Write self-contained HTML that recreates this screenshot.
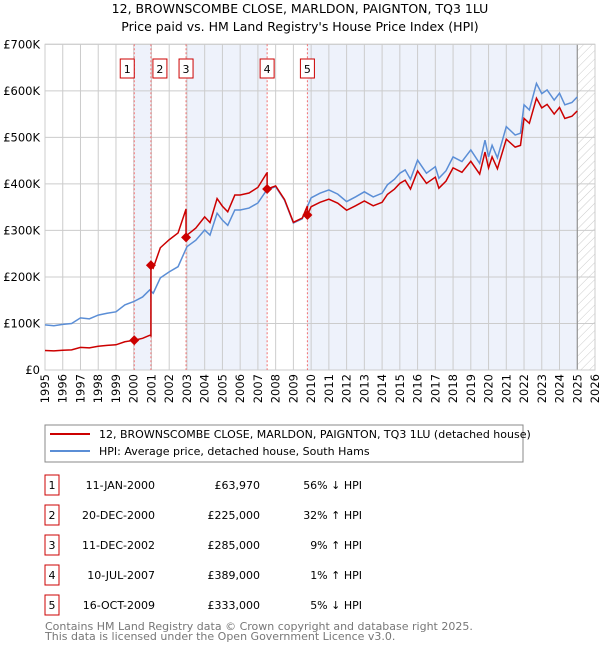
<!DOCTYPE html>
<html><head><meta charset="utf-8"><style>
body{margin:0;background:#fff;font-family:"DejaVu Sans","Liberation Sans",sans-serif;}
svg text{font-family:"DejaVu Sans","Liberation Sans",sans-serif;}
</style></head><body>
<svg id="c" width="600" height="650" xmlns="http://www.w3.org/2000/svg">
<defs><pattern id="hatch" width="6" height="6" patternUnits="userSpaceOnUse" patternTransform="rotate(45)"><line x1="0" y1="0" x2="0" y2="6" stroke="#ccc" stroke-width="1"/></pattern></defs>
<text x="300" y="13" text-anchor="middle" font-size="12.5">12, BROWNSCOMBE CLOSE, MARLDON, PAIGNTON, TQ3 1LU</text>
<text x="300" y="31" text-anchor="middle" font-size="12.5">Price paid vs. HM Land Registry's House Price Index (HPI)</text>
<g id="plot"></g>
<g>
<rect x="45" y="425" width="478" height="37" fill="#fff" stroke="#888"/>
<line x1="50" y1="434" x2="90" y2="434" stroke="#cc0000" stroke-width="2"/>
<text x="99" y="438" font-size="11">12, BROWNSCOMBE CLOSE, MARLDON, PAIGNTON, TQ3 1LU (detached house)</text>
<line x1="50" y1="451" x2="90" y2="451" stroke="#5b8ed6" stroke-width="2"/>
<text x="99" y="455" font-size="11">HPI: Average price, detached house, South Hams</text>
</g>
<g id="table" font-size="11"></g>
<text x="45" y="630" font-size="11" fill="#777">Contains HM Land Registry data © Crown copyright and database right 2025.</text>
<text x="45" y="640" font-size="11" fill="#777">This data is licensed under the Open Government Licence v3.0.</text>
</svg>
<script>
const hpiYears=[1995,1995.5,1996,1996.5,1997,1997.5,1998,1998.5,1999,1999.5,2000,2000.5,2000.9,2001.1,2001.5,2002,2002.5,2003,2003.5,2004,2004.3,2004.7,2005,2005.3,2005.7,2006,2006.5,2007,2007.5,2008,2008.5,2009,2009.5,2010,2010.5,2011,2011.5,2012,2012.5,2013,2013.5,2014,2014.3,2014.7,2015,2015.3,2015.6,2016,2016.5,2017,2017.2,2017.6,2018,2018.5,2019,2019.5,2019.8,2020,2020.2,2020.5,2021,2021.5,2021.8,2022,2022.3,2022.7,2023,2023.3,2023.7,2024,2024.3,2024.7,2025];
const hpiValues=[97,95,98,100,112,110,118,122,125,140,147,157,172,165,198,211,222,265,279,301,290,337,322,311,344,344,348,359,387,394,365,316,325,370,380,387,378,362,372,383,372,380,398,410,423,430,410,451,423,437,412,428,458,448,473,444,494,458,483,456,523,505,509,570,559,616,594,602,580,595,570,575,587];
const saleYears=[2000.03,2000.97,2002.95,2007.52,2009.79];
const salePrices=[63970,225000,285000,389000,333000];
const saleLabels=["1","2","3","4","5"];
const saleDates=["11-JAN-2000","20-DEC-2000","11-DEC-2002","10-JUL-2007","16-OCT-2009"];
const salePriceText=["£63,970","£225,000","£285,000","£389,000","£333,000"];
const saleHpiText=["56% ↓ HPI","32% ↑ HPI","9% ↑ HPI","1% ↑ HPI","5% ↓ HPI"];
const yTicks=[0,100,200,300,400,500,600,700];
const yTickLabels=["£0","£100K","£200K","£300K","£400K","£500K","£600K","£700K"];
const xTicks=[1995,1996,1997,1998,1999,2000,2001,2002,2003,2004,2005,2006,2007,2008,2009,2010,2011,2012,2013,2014,2015,2016,2017,2018,2019,2020,2021,2022,2023,2024,2025,2026];
const dataEnd=2025.0;

const NS="http://www.w3.org/2000/svg";
const X0=45,X1=595,Y0=370,Y1=44.3;
const xs=t=>X0+(t-1995)/(2026-1995)*(X1-X0);
const ys=v=>Y0-v/700*(Y0-Y1);
const plot=document.getElementById('plot');
function mk(tag,attrs,parent){const e=document.createElementNS(NS,tag);for(const k in attrs)e.setAttribute(k,attrs[k]);(parent||plot).appendChild(e);return e;}
function hpiAt(t){for(let i=0;i<hpiYears.length-1;i++){if(t>=hpiYears[i]&&t<=hpiYears[i+1]){const f=(t-hpiYears[i])/(hpiYears[i+1]-hpiYears[i]);return hpiValues[i]+f*(hpiValues[i+1]-hpiValues[i]);}}return hpiValues[hpiValues.length-1];}

const shades=[[saleYears[0],saleYears[1]],[saleYears[2],saleYears[3]],[saleYears[4],dataEnd]];
shades.forEach(s=>{const r=mk('rect',{x:xs(s[0]),y:Y1,width:xs(s[1])-xs(s[0]),height:Y0-Y1,fill:'#eef2fb'});

});
const h=mk('rect',{x:xs(dataEnd),y:Y1,width:X1-xs(dataEnd),height:Y0-Y1,fill:'url(#hatch)'});


yTicks.forEach((v,i)=>{mk('line',{x1:X0,x2:X1,y1:ys(v),y2:ys(v),stroke:'#ccc'});
const t=mk('text',{x:40,y:ys(v)+4,'text-anchor':'end','font-size':11.5});t.textContent=yTickLabels[i];

});
xTicks.forEach(yr=>{mk('line',{x1:xs(yr),x2:xs(yr),y1:Y1,y2:Y0,stroke:'#ccc'});
const t=mk('text',{x:0,y:0,'font-size':11.5,transform:`translate(${xs(yr)+4},${Y0+4}) rotate(-90)`,'text-anchor':'end'});t.textContent=yr;

});
mk('line',{x1:xs(dataEnd),x2:xs(dataEnd),y1:Y1,y2:Y0,stroke:'#888'});
mk('rect',{x:X0,y:Y1,width:X1-X0,height:Y0-Y1,fill:'none',stroke:'#ccc'});
saleYears.forEach((t,i)=>{mk('line',{x1:xs(t),x2:xs(t),y1:Y1,y2:Y0,stroke:'#f07070','stroke-dasharray':'2,2'});
const b=mk('rect',{x:xs(t)-(i==1?-2:i==0?14:7),y:59,width:14,height:19,fill:'#fff',stroke:'#cc0000'});


const tx=mk('text',{x:xs(t)-(i==1?-9:i==0?7:0),y:73,'text-anchor':'middle','font-size':11});tx.textContent=saleLabels[i];

});
const hp=mk('polyline',{points:hpiYears.map((t,i)=>xs(t)+','+ys(hpiValues[i])).join(' '),fill:'none',stroke:'#5b8ed6','stroke-width':1.5});


const pts=[];
function ratioAt(t){let k=0;for(let i=0;i<saleYears.length;i++)if(t>=saleYears[i])k=i;return (salePrices[k]/1000)/hpiAt(saleYears[k]);}
const times=hpiYears.concat(saleYears,saleYears.map(s=>s-0.001)).filter(t=>t<=dataEnd).sort((a,b)=>a-b);
times.forEach(t=>{pts.push(xs(t)+','+ys(hpiAt(t)*ratioAt(t)));});
const rp=mk('polyline',{points:pts.join(' '),fill:'none',stroke:'#cc0000','stroke-width':1.5});


saleYears.forEach((t,i)=>{const cx=xs(t),cy=ys(salePrices[i]/1000);
const d=mk('polygon',{points:`${cx},${cy-5} ${cx+5},${cy} ${cx},${cy+5} ${cx-5},${cy}`,fill:'#cc0000'});

});
const tb=document.getElementById('table');
saleYears.forEach((t,i)=>{const y=475+i*30;
const b=mk('rect',{x:45,y:y,width:14,height:20,fill:'none',stroke:'#cc0000'},tb);


const cols=[[52,saleLabels[i],'middle'],[155,saleDates[i],'end'],[260,salePriceText[i],'end'],[362,saleHpiText[i],'end']];
cols.forEach(c=>{const e=mk('text',{x:c[0],y:y+14,'text-anchor':c[2]},tb);e.textContent=c[1];

});});
</script>
</body></html>
